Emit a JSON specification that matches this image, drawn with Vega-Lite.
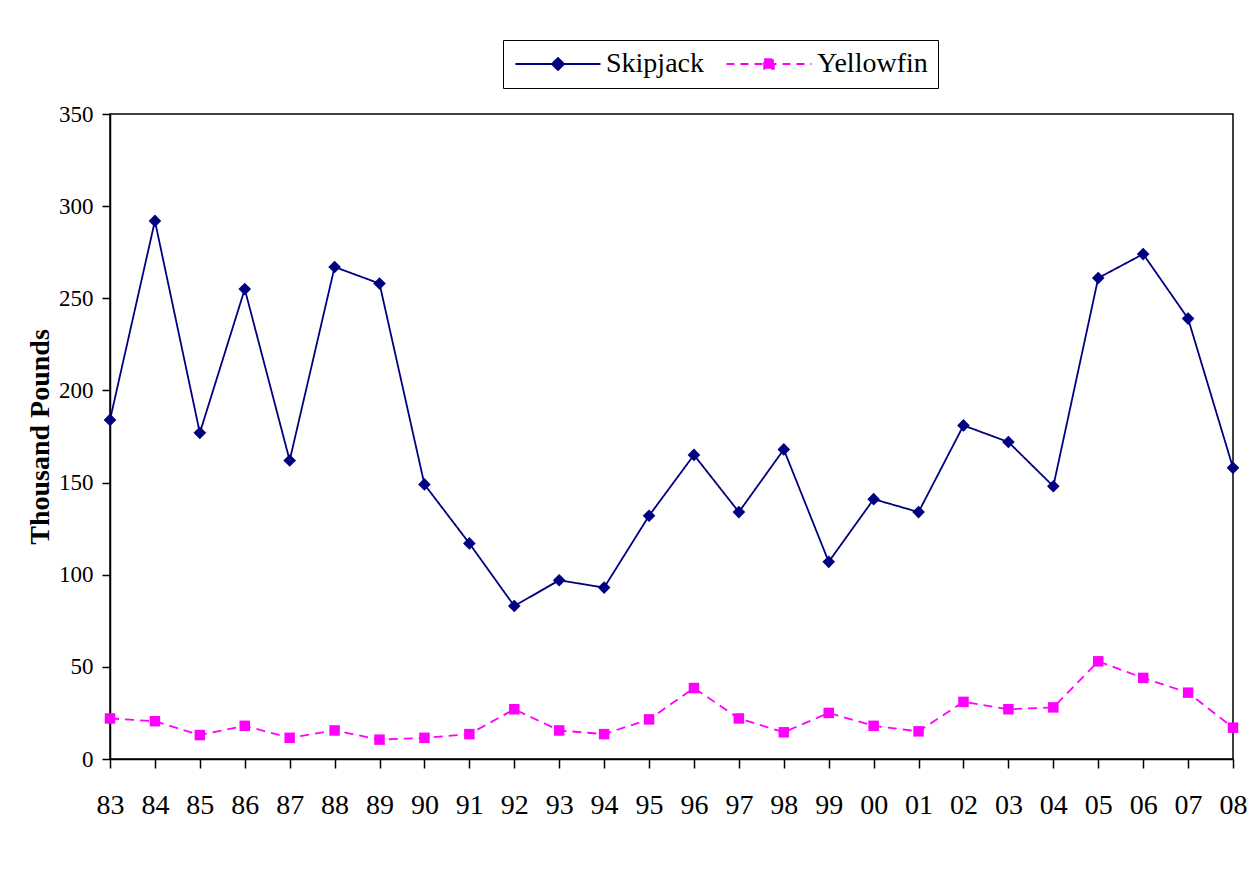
{
  "$schema": "https://vega.github.io/schema/vega-lite/v6.json",
  "width": 1123,
  "height": 645,
  "autosize": {"type": "none"},
  "padding": {"left": 110, "top": 114, "right": 22, "bottom": 110},
  "background": "white",
  "config": {
    "font": "Liberation Serif",
    "view": {"stroke": "black", "strokeWidth": 1.5},
    "legend": {"labelFont": "Liberation Serif"},
    "axis": {"grid": false, "domainColor": "black", "domainWidth": 1.5, "tickColor": "black", "tickWidth": 1.5, "labelColor": "black", "titleColor": "black", "labelFont": "Liberation Serif", "titleFont": "Liberation Serif"}
  },
  "data": {
    "values": [
      {"year": "83", "species": "Skipjack", "pounds": 184},
      {"year": "84", "species": "Skipjack", "pounds": 292},
      {"year": "85", "species": "Skipjack", "pounds": 177},
      {"year": "86", "species": "Skipjack", "pounds": 255},
      {"year": "87", "species": "Skipjack", "pounds": 162},
      {"year": "88", "species": "Skipjack", "pounds": 267},
      {"year": "89", "species": "Skipjack", "pounds": 258},
      {"year": "90", "species": "Skipjack", "pounds": 149},
      {"year": "91", "species": "Skipjack", "pounds": 117},
      {"year": "92", "species": "Skipjack", "pounds": 83},
      {"year": "93", "species": "Skipjack", "pounds": 97},
      {"year": "94", "species": "Skipjack", "pounds": 93},
      {"year": "95", "species": "Skipjack", "pounds": 132},
      {"year": "96", "species": "Skipjack", "pounds": 165},
      {"year": "97", "species": "Skipjack", "pounds": 134},
      {"year": "98", "species": "Skipjack", "pounds": 168},
      {"year": "99", "species": "Skipjack", "pounds": 107},
      {"year": "00", "species": "Skipjack", "pounds": 141},
      {"year": "01", "species": "Skipjack", "pounds": 134},
      {"year": "02", "species": "Skipjack", "pounds": 181},
      {"year": "03", "species": "Skipjack", "pounds": 172},
      {"year": "04", "species": "Skipjack", "pounds": 148},
      {"year": "05", "species": "Skipjack", "pounds": 261},
      {"year": "06", "species": "Skipjack", "pounds": 274},
      {"year": "07", "species": "Skipjack", "pounds": 239},
      {"year": "08", "species": "Skipjack", "pounds": 158},
      {"year": "83", "species": "Yellowfin", "pounds": 22},
      {"year": "84", "species": "Yellowfin", "pounds": 20.5},
      {"year": "85", "species": "Yellowfin", "pounds": 13},
      {"year": "86", "species": "Yellowfin", "pounds": 18},
      {"year": "87", "species": "Yellowfin", "pounds": 11.5},
      {"year": "88", "species": "Yellowfin", "pounds": 15.5},
      {"year": "89", "species": "Yellowfin", "pounds": 10.5},
      {"year": "90", "species": "Yellowfin", "pounds": 11.5},
      {"year": "91", "species": "Yellowfin", "pounds": 13.5},
      {"year": "92", "species": "Yellowfin", "pounds": 27},
      {"year": "93", "species": "Yellowfin", "pounds": 15.5},
      {"year": "94", "species": "Yellowfin", "pounds": 13.5},
      {"year": "95", "species": "Yellowfin", "pounds": 21.5},
      {"year": "96", "species": "Yellowfin", "pounds": 38.5},
      {"year": "97", "species": "Yellowfin", "pounds": 22},
      {"year": "98", "species": "Yellowfin", "pounds": 14.5},
      {"year": "99", "species": "Yellowfin", "pounds": 25},
      {"year": "00", "species": "Yellowfin", "pounds": 18},
      {"year": "01", "species": "Yellowfin", "pounds": 15},
      {"year": "02", "species": "Yellowfin", "pounds": 31},
      {"year": "03", "species": "Yellowfin", "pounds": 27},
      {"year": "04", "species": "Yellowfin", "pounds": 28},
      {"year": "05", "species": "Yellowfin", "pounds": 53},
      {"year": "06", "species": "Yellowfin", "pounds": 44},
      {"year": "07", "species": "Yellowfin", "pounds": 36},
      {"year": "08", "species": "Yellowfin", "pounds": 17}
    ]
  },
  "encoding": {
    "x": {
      "field": "year", "type": "ordinal", "sort": null,
      "scale": {"type": "point", "padding": 0},
      "axis": {"title": null, "labelAngle": 0, "labelFontSize": 28, "tickSize": 9, "labelPadding": 23}
    },
    "y": {
      "field": "pounds", "type": "quantitative",
      "scale": {"domain": [0, 350], "nice": false},
      "axis": {"title": "Thousand Pounds", "values": [0, 50, 100, 150, 200, 250, 300, 350], "labelFontSize": 23, "tickSize": 8, "labelPadding": 9, "titleFontSize": 28, "titleFontWeight": "bold", "titlePadding": 4}
    }
  },
  "resolve": {"scale": {"color": "independent"}, "legend": {"color": "independent"}},
  "layer": [
    {
      "mark": {"type": "line", "strokeWidth": 1.8},
      "encoding": {
        "color": {
          "field": "species", "type": "nominal",
          "scale": {"domain": ["Skipjack", "Yellowfin"], "range": ["#000080", "#FF00FF"]},
          "legend": {
            "title": null,
            "orient": "none",
            "legendX": 393,
            "legendY": -74,
            "direction": "horizontal",
            "columns": 2,
            "strokeColor": "black",
            "padding": 10,
            "fillColor": "white",
            "labelFont": "Liberation Serif",
            "labelFontSize": 28,
            "labelColor": "black",
            "symbolSize": 590,
            "symbolOffset": 31,
            "labelOffset": 34,
            "columnPadding": 18,
            "encode": {
              "labels": {
                "update": {
                  "font": {"value": "Liberation Serif"}
                }
              },
              "symbols": {
                "update": {
                  "shape": [
                    {"test": "datum.value === 'Skipjack'", "value": "M-3.5,0L3.5,0M0,-0.5L0.5,0L0,0.5L-0.5,0Z"},
                    {"value": "M-3.5,0L3.5,0M-0.4,-0.4L0.4,-0.4L0.4,0.4L-0.4,0.4Z"}
                  ],
                  "fill": [
                    {"test": "datum.value === 'Skipjack'", "value": "#000080"},
                    {"value": "#FF00FF"}
                  ],
                  "stroke": [
                    {"test": "datum.value === 'Skipjack'", "value": "#000080"},
                    {"value": "#FF00FF"}
                  ],
                  "strokeDash": [
                    {"test": "datum.value === 'Yellowfin'", "value": [8, 6]},
                    {"value": [1, 0]}
                  ],
                  "strokeWidth": {"value": 1.8},
                  "fillOpacity": {"value": 1},
                  "opacity": {"value": 1}
                }
              }
            }
          }
        },
        "strokeDash": {
          "field": "species", "type": "nominal",
          "scale": {"domain": ["Skipjack", "Yellowfin"], "range": [[1, 0], [9, 6]]},
          "legend": null
        }
      }
    },
    {
      "mark": {"type": "point", "filled": true, "opacity": 1},
      "encoding": {
        "color": {
          "field": "species", "type": "nominal",
          "scale": {"domain": ["Skipjack", "Yellowfin"], "range": ["#000080", "#FF00FF"]},
          "legend": null
        },
        "shape": {
          "field": "species", "type": "nominal",
          "scale": {"domain": ["Skipjack", "Yellowfin"], "range": ["diamond", "square"]},
          "legend": null
        },
        "size": {
          "field": "species", "type": "nominal",
          "scale": {"domain": ["Skipjack", "Yellowfin"], "range": [160, 110]},
          "legend": null
        }
      }
    }
  ]
}
